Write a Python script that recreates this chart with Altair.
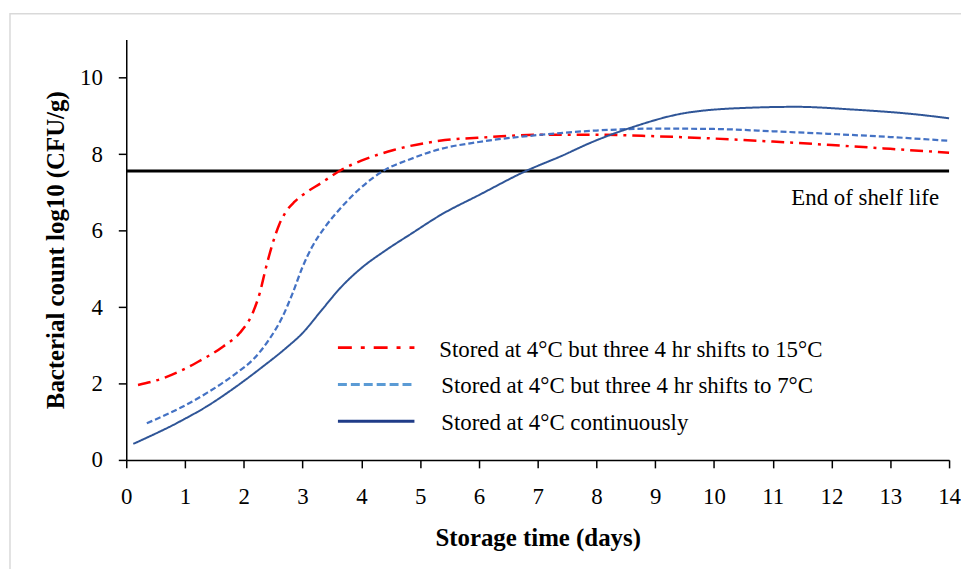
import altair as alt
import pandas as pd

# ---- data ----
s_red = "Stored at 4°C but three 4 hr shifts to 15°C"
s_blue = "Stored at 4°C but three 4 hr shifts to 7°C"
s_navy = "Stored at 4°C continuously"
series_names = [s_red, s_blue, s_navy]

red_days = [0.2, 0.65, 1.2, 1.65, 1.93, 2.15, 2.27, 2.38, 2.49, 2.6, 2.72, 2.86, 3.0, 3.33, 3.65,
            4.0, 4.55, 5.33, 6.2, 7.0, 8.0, 9.0, 10.0, 11.0, 12.0, 13.0, 14.0]
red_vals = [1.96, 2.15, 2.55, 2.97, 3.32, 3.84, 4.36, 5.05, 5.66, 6.15, 6.5, 6.75, 6.93, 7.26, 7.58,
            7.83, 8.11, 8.35, 8.45, 8.51, 8.51, 8.47, 8.41, 8.33, 8.24, 8.14, 8.04]

blue_days = [0.35, 0.93, 1.38, 1.88, 2.16, 2.43, 2.66, 2.83, 3.0, 3.16, 3.38, 3.66, 3.94, 4.38,
             4.83, 5.33, 6.0, 7.0, 8.0, 9.0, 10.0, 11.0, 12.0, 13.0, 14.0]
blue_vals = [0.96, 1.37, 1.76, 2.28, 2.63, 3.15, 3.75, 4.36, 5.05, 5.57, 6.09, 6.61, 7.05, 7.57,
             7.87, 8.13, 8.32, 8.50, 8.62, 8.67, 8.66, 8.60, 8.53, 8.45, 8.35]

navy_days = [0.12, 0.93, 1.38, 1.88, 2.33, 2.72, 3.0, 3.33, 3.66, 4.0, 4.4, 4.85, 5.36, 6.0,
             6.8, 7.4, 7.9, 8.56, 9.56, 10.67, 11.4, 12.35, 13.45, 14.0]
navy_vals = [0.42, 1.02, 1.41, 1.93, 2.45, 2.93, 3.32, 3.93, 4.53, 5.02, 5.47, 5.92, 6.42, 6.93,
             7.56, 7.95, 8.30, 8.68, 9.09, 9.22, 9.24, 9.17, 9.04, 8.94]

shelf_life = [7.56]
shelf_label = "End of shelf life"
x_ticks = list(range(0, 15))
y_ticks = list(range(0, 12))

line_colors = ["#FF0000", "#4472C4", "#2F5597"]
legend_colors = ["#FF0000", "#5B9BD5", "#1F3C88"]
line_dashes = [[13, 6, 3, 6], [6, 3], [1, 0]]
legend_dashes = [[14, 9, 4, 9], [9, 4], [1, 0]]
line_widths = [2.5, 2, 2]

FONT = "Liberation Serif"

rows = []
for name, ds, vs in [(s_red, red_days, red_vals), (s_blue, blue_days, blue_vals), (s_navy, navy_days, navy_vals)]:
    for d, v in zip(ds, vs):
        rows.append({"series": name, "day": d, "value": v})
df = pd.DataFrame(rows)

x_enc = alt.X("day:Q", scale=alt.Scale(domain=[0, 14], nice=False, zero=False),
              axis=alt.Axis(values=x_ticks, title="Storage time (days)", grid=False,
                            tickSize=8, labelPadding=18, titlePadding=17, labelFlush=False,
                            labelOverlap=False, format="d"))
y_enc = alt.Y("value:Q", scale=alt.Scale(domain=[0, 11], nice=False),
              axis=alt.Axis(values=y_ticks, title="Bacterial count log10 (CFU/g)", grid=False,
                            tickSize=8, labelPadding=16, titlePadding=11,
                            labelExpr="datum.value % 2 == 0 ? datum.label : ''"))

lines = alt.Chart(df).mark_line(interpolate="monotone").encode(
    x=x_enc,
    y=y_enc,
    color=alt.Color("series:N", scale=alt.Scale(domain=series_names, range=line_colors), legend=None),
    strokeDash=alt.StrokeDash("series:N", scale=alt.Scale(domain=series_names, range=line_dashes), legend=None),
    strokeWidth=alt.StrokeWidth("series:N", scale=alt.Scale(domain=series_names, range=line_widths), legend=None),
    detail="series:N",
)

shelf = alt.Chart(pd.DataFrame({"limit": shelf_life})).mark_rule(color="black", strokeWidth=3).encode(
    y="limit:Q"
)

shelf_text = alt.Chart(pd.DataFrame({"t": [shelf_label]})).mark_text(
    align="right", baseline="middle", font=FONT, fontSize=23, color="black"
).encode(x=alt.datum(13.83), y=alt.datum(6.84), text="t:N")

frame = alt.Chart(pd.DataFrame({"f": [0]})).mark_rect(
    fill=None, stroke="#d9d9d9", strokeWidth=1.5, clip=False
).encode(x=alt.value(-117), x2=alt.value(3000), y=alt.value(-26), y2=alt.value(3000))

legend_layers = []
leg_y = [310, 347, 384]
for i, name in enumerate(series_names):
    one = pd.DataFrame({"label": [name]})
    legend_layers.append(
        alt.Chart(one).mark_rule(color=legend_colors[i], strokeDash=legend_dashes[i], strokeWidth=3).encode(
            x=alt.value(213), x2=alt.value(290), y=alt.value(leg_y[i])
        )
    )
    legend_layers.append(
        alt.Chart(one).mark_text(align="left", baseline="middle", font=FONT, fontSize=23, color="black").encode(
            x=alt.value(315 + (2 if i > 0 else 0)), y=alt.value(leg_y[i] + 2), text="label:N"
        )
    )

chart = alt.layer(frame, shelf, lines, shelf_text, *legend_layers).properties(
    width=828, height=423,
    autosize=alt.AutoSizeParams(type="none"),
    padding={"left": 119, "top": 30, "right": 12, "bottom": 108},
    background="white",
).configure_view(stroke=None).configure_axis(
    domainColor="black", tickColor="black", domainWidth=1.5, tickWidth=1.5,
    labelFont=FONT, labelFontSize=23, labelColor="black",
    titleFont=FONT, titleFontSize=25, titleFontWeight="bold", titleColor="black",
)

chart.save("out.html", embed_options={"renderer": "svg", "actions": False})
